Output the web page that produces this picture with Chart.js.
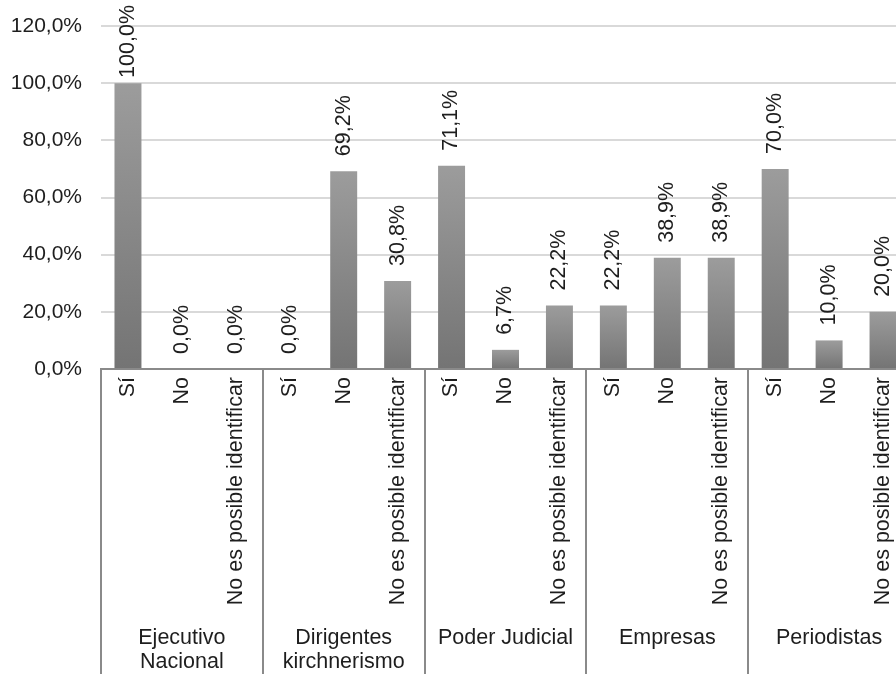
<!DOCTYPE html>
<html>
<head>
<meta charset="utf-8">
<script src="https://cdn.jsdelivr.net/npm/chart.js@4"></script>
<style>
  html, body { margin: 0; padding: 0; background: #fff; overflow: hidden; }
  #wrap { position: relative; width: 912px; height: 674px; }
</style>
</head>
<body>
<div id="wrap"><canvas id="c"></canvas></div>
<script>
// Actor groups (outer axis level), each with the same three answers
const groups = [
  ["Ejecutivo", "Nacional"],
  ["Dirigentes", "kirchnerismo"],
  ["Poder Judicial"],
  ["Empresas"],
  ["Periodistas"]
];
const answers = ["Sí", "No", "No es posible identificar"];

// Percentages per group, in the order of `answers`
const ejecutivo   = [100.0, 0.0, 0.0];
const dirigentes  = [0.0, 69.2, 30.8];
const judicial    = [71.1, 6.7, 22.2];
const empresas    = [22.2, 38.9, 38.9];
const periodistas = [70.0, 10.0, 20.0];

const yTicks = [0, 20, 40, 60, 80, 100, 120];

const labels = [];
groups.forEach(() => answers.forEach(a => labels.push(a)));
const values = [].concat(ejecutivo, dirigentes, judicial, empresas, periodistas);

const FONT = "'Liberation Sans', Arial, sans-serif";
const TEXT = '#1e1e1e';
const SIZE = 21.5;
const fmt = v => v.toFixed(1).replace('.', ',') + '%';

// Vertical gray gradient per bar, lighter at the top
function barFill(ctx) {
  const chart = ctx.chart;
  const ys = chart.scales.y;
  if (!ys || !chart.chartArea) return '#888';
  const top = ys.getPixelForValue(ctx.raw);
  const bottom = ys.getPixelForValue(0);
  if (bottom - top < 1) return '#888';
  const g = chart.ctx.createLinearGradient(0, top, 0, bottom);
  g.addColorStop(0, '#9c9c9c');
  g.addColorStop(1, '#747474');
  return g;
}

// Rotated value labels above each bar
const valueLabels = {
  id: 'valueLabels',
  afterDatasetsDraw(chart) {
    const ctx = chart.ctx;
    const meta = chart.getDatasetMeta(0);
    ctx.save();
    ctx.font = SIZE + 'px ' + FONT;
    ctx.fillStyle = TEXT;
    ctx.textAlign = 'left';
    ctx.textBaseline = 'middle';
    meta.data.forEach((bar, i) => {
      const txt = fmt(values[i]);
      const w = ctx.measureText(txt).width;
      let start = bar.y - 15;
      if (start - w < 5) start = 5 + w;
      ctx.save();
      ctx.translate(bar.x, start);
      ctx.rotate(-Math.PI / 2);
      ctx.fillText(txt, 0, 0);
      ctx.restore();
    });
    ctx.restore();
  }
};

// Outer category level: group separators and group names
const groupAxis = {
  id: 'groupAxis',
  afterDraw(chart) {
    const ctx = chart.ctx;
    const xs = chart.scales.x;
    const area = chart.chartArea;
    const n = answers.length;
    const bottom = chart.height;
    ctx.save();
    ctx.strokeStyle = '#8a8a8a';
    ctx.lineWidth = 2;
    const edges = [area.left];
    for (let g = 1; g <= groups.length; g++) {
      const i = g * n;
      if (i < labels.length) {
        edges.push((xs.getPixelForValue(i - 1) + xs.getPixelForValue(i)) / 2);
      } else {
        edges.push(area.right);
      }
    }
    edges.slice(0, groups.length).forEach(x => {
      ctx.beginPath();
      ctx.moveTo(Math.round(x), area.bottom);
      ctx.lineTo(Math.round(x), bottom);
      ctx.stroke();
    });
    ctx.font = SIZE + 'px ' + FONT;
    ctx.fillStyle = TEXT;
    ctx.textAlign = 'center';
    ctx.textBaseline = 'middle';
    groups.forEach((lines, g) => {
      const cx = (edges[g] + edges[g + 1]) / 2;
      lines.forEach((t, k) => {
        ctx.fillText(t, cx, area.bottom + 269 + k * 24);
      });
    });
    ctx.restore();
  }
};

new Chart(document.getElementById('c'), {
  type: 'bar',
  data: {
    labels: labels,
    datasets: [{
      data: values,
      backgroundColor: barFill,
      borderWidth: 0,
      categoryPercentage: 1.0,
      barPercentage: 0.5
    }]
  },
  options: {
    responsive: true,
    maintainAspectRatio: false,
    animation: false,
    events: [],
    layout: { padding: { top: 26, right: 2, left: 0, bottom: 0 } },
    plugins: {
      legend: { display: false },
      tooltip: { enabled: false },
      title: { display: false }
    },
    scales: {
      x: {
        grid: { display: false, drawTicks: false },
        border: { display: true, color: '#8a8a8a', width: 2 },
        afterFit(s) { s.height = 305; s.paddingLeft = 0; s.paddingRight = 0; },
        ticks: {
          autoSkip: false,
          minRotation: 90,
          maxRotation: 90,
          padding: 8,
          color: TEXT,
          font: { family: FONT, size: SIZE }
        }
      },
      y: {
        min: 0,
        max: 120,
        afterFit(s) { s.width = 101; s.paddingTop = 0; s.paddingBottom = 0; },
        afterBuildTicks(s) { s.ticks = yTicks.map(v => ({ value: v })); },
        border: { display: false },
        grid: { color: '#d9d9d9', lineWidth: 2, drawTicks: false },
        ticks: {
          padding: 19,
          color: TEXT,
          font: { family: FONT, size: 21 },
          callback: v => fmt(v)
        }
      }
    }
  },
  plugins: [valueLabels, groupAxis]
});
</script>
</body>
</html>
